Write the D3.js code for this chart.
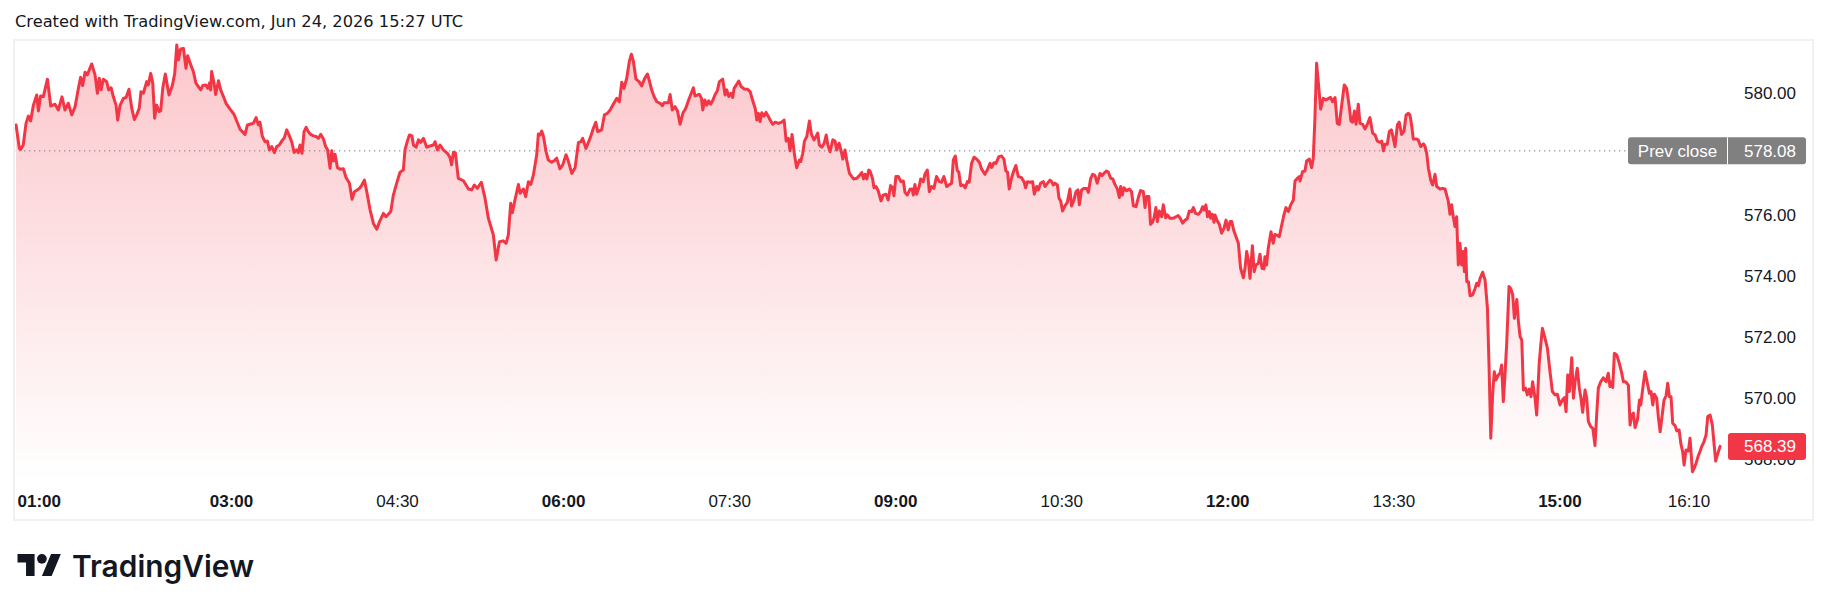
<!DOCTYPE html>
<html><head><meta charset="utf-8">
<script src="https://cdn.jsdelivr.net/npm/d3@7"></script>
<style>
html,body{margin:0;padding:0;background:#fff;}
svg{display:block;}
</style></head><body>
<svg id="chart" width="1830" height="611"></svg>
<script>
// ---- DATA ----
const titleText = "Created with TradingView.com, Jun 24, 2026 15:27 UTC";
const sessionStart = "01:00";
// minutes after 01:00
const minutesAfterStart = [
3.5,5.3,6.0,7.4,8.9,10.2,11.4,12.9,14.7,15.6,16.8,18.3,20.5,22.3,24.6,26.4,28.4,30.0,31.8,33.7,
35.5,37.3,38.5,39.6,40.9,42.1,44.5,46.3,47.6,48.6,49.6,50.8,52.6,53.7,55.0,56.2,57.7,58.6,59.9,61.7,
63.1,64.7,66.2,67.6,68.9,70.3,71.2,72.5,74.3,75.2,76.5,77.6,78.6,79.7,81.0,81.9,83.0,84.4,86.4,88.2,
89.5,90.6,91.5,92.7,94.2,95.6,96.5,98.2,99.6,101.0,102.3,103.6,104.7,106.3,107.4,108.3,109.0,109.5,110.8,111.7,
113.2,114.4,115.9,117.3,119.5,121.6,123.1,124.9,127.6,128.9,130.7,132.1,133.6,134.8,135.7,137.0,138.5,139.7,140.8,142.1,
143.5,144.8,146.2,147.5,148.8,150.2,151.6,152.9,154.2,155.6,156.5,157.4,158.5,159.6,160.7,161.9,163.2,164.7,166.1,167.4,
168.6,170.1,171.3,172.4,173.7,174.6,175.5,176.4,177.7,179.1,180.9,182.4,184.2,185.6,186.9,188.2,189.6,190.9,192.3,193.6,
195.4,197.2,199.0,200.4,202.6,204.0,206.6,208.0,209.8,211.6,213.4,214.3,215.6,216.7,218.0,218.9,220.3,221.6,222.8,224.3,
226.1,227.9,229.7,230.6,231.9,
233.3,235.1,237.3,238.7,239.6,240.5,241.6,243.2,246.0,248.7,250.5,251.9,253.5,255.7,257.7,259.5,262.2,263.7,265.5,267.6,
269.1,270.3,271.6,272.5,273.9,275.8,276.7,278.5,279.7,281.2,282.5,283.9,285.7,286.6,287.5,288.4,289.3,290.8,292.0,293.8,
295.1,296.5,298.3,299.8,301.6,302.9,304.7,306.5,308.3,309.6,310.6,312.4,314.6,316.4,317.7,318.8,320.9,322.4,324.0,325.5,
326.9,329.1,330.5,331.8,333.0,334.5,335.9,337.0,338.1,339.5,341.2,342.6,344.1,345.7,346.8,348.0,349.3,350.8,352.6,353.8,
354.7,357.1,358.0,359.2,360.7,362.0,363.4,364.9,366.5,367.9,369.2,370.6,371.5,372.8,373.9,375.0,375.7,376.8,377.9,378.9,
380.0,381.1,382.4,383.6,384.7,386.5,387.8,388.7,389.8,390.9,391.9,392.7,394.1,395.2,396.5,398.1,399.9,401.4,402.8,404.1,
405.0,405.9,406.8,407.7,408.9,410.0,411.3,412.2,413.6,414.9,416.7,418.5,419.8,420.9,422.1,423.0,424.1,425.4,426.6,428.1,
428.8,429.9,430.8,432.1,433.5,434.6,436.0,437.1,438.0,438.9,440.2,441.5,442.6,443.5,444.7,446.2,447.4,448.3,449.6,450.7,
451.6,452.8,453.7,455.2,457.4,459.2,460.6,461.9,462.8,463.7,464.6,465.7,
466.3,467.7,468.5,469.6,470.8,472.3,473.5,475.0,476.2,477.5,478.6,479.3,480.4,481.7,483.1,484.4,485.3,486.5,488.0,489.2,
489.8,490.7,491.6,493.0,493.8,495.2,496.1,497.4,498.5,499.7,501.0,502.4,503.9,505.1,506.4,507.9,509.1,510.6,511.5,512.6,
513.6,514.5,515.5,516.9,518.0,519.1,520.1,521.4,522.7,524.1,525.6,526.8,528.6,529.9,531.4,532.3,533.5,534.6,536.2,537.7,
538.9,540.0,540.9,541.8,543.1,544.4,545.4,546.7,548.5,549.8,550.7,551.6,553.0,554.5,555.4,556.7,557.6,558.8,560.3,561.2,
562.1,563.9,564.8,565.7,566.6,567.9,568.8,569.7,570.7,572.0,573.3,574.7,575.6,576.9,578.0,579.1,579.8,581.0,582.3,583.8,
584.7,585.9,587.0,588.3,589.5,591.0,592.2,593.1,594.6,595.5,596.8,597.9,599.1,600.4,601.5,602.2,603.1,604.0,605.4,606.9,
608.1,609.1,610.5,611.8,613.0,614.5,615.4,616.3,617.5,618.4,619.5,620.3,621.3,622.1,623.1,624.4,625.3,626.6,627.5,628.9,
630.7,632.2,633.4,634.7,635.8,637.1,638.3,639.4,640.7,641.6,642.8,644.3,645.6,646.6,647.5,648.4,649.3,650.3,651.0,651.9,
652.8,653.3,654.6,655.7,656.9,658.2,659.3,660.5,661.5,662.4,663.6,664.7,666.0,667.2,668.7,669.6,670.5,671.4,672.3,673.6,
674.6,675.5,676.8,677.7,678.8,679.9,680.4,681.3,682.2,683.7,684.9,685.8,686.7,688.2,689.5,690.7,691.8,693.1,694.4,695.8,
696.7,698.0,699.0,
699.4,700.8,702.1,703.0,704.5,705.7,706.6,707.5,708.4,709.3,710.6,712.0,713.5,714.8,716.0,717.1,718.4,719.6,720.7,722.0,
723.4,724.7,726.1,727.0,727.9,728.9,729.8,731.0,731.9,733.4,734.6,735.9,737.3,738.8,740.1,741.3,742.8,743.7,744.6,745.5,
746.7,747.8,748.9,750.0,750.9,752.2,753.2,754.5,755.8,756.9,758.1,759.0,759.9,760.8,762.3,763.5,764.8,766.3,767.2,768.1,
769.0,770.2,771.3,772.6,773.5,775.3,776.7,778.0,778.9,779.8,780.7,781.6,782.5,783.4,784.3,785.2,786.1,787.0,787.9,788.5,
789.2,789.8,790.7,791.6,793.0,794.3,795.2,796.1,797.0,798.4,799.7,801.0,801.9,802.8,803.8,804.7,805.6,806.9,807.8,808.7,
809.6,810.5,811.4,812.7,813.6,814.7,815.6,816.9,817.8,818.7,819.6,820.5,821.7,822.6,823.7,824.6,825.5,826.8,827.7,829.0,
829.9,830.8,832.2,833.5,834.9,836.2,837.6,838.9,840.3,841.6,842.7,843.6,844.5,845.4,846.7,847.6,848.5,849.7,850.8,851.7,
852.6,853.9,854.8,855.7,857.0,858.1,859.3,860.2,861.1,862.4,863.8,865.3,866.5,867.4,868.3,868.9,869.8,871.1,872.5,873.8,
874.7,875.9,877.4,878.3,879.2,880.1,881.0,882.3,883.4,884.1,885.2,886.4,887.7,888.8,889.7,890.6,891.5,892.7,893.7,894.6,
895.5,896.7,897.8,898.7,899.6,900.5,901.4,902.7,903.6,904.9,905.8,906.8,907.6,908.6,909.9,910.8,912.1,913.0,914.1,915.3,
916.2,917.1,918.4,919.5,920.4,921.7,922.9,923.8,924.7,925.6,927.1
];
const prices = [
578.93,578.16,578.13,578.27,578.98,579.22,579.06,579.58,579.91,579.39,579.88,579.86,580.43,579.55,579.61,579.42,579.85,579.42,579.64,579.26,
579.53,580.13,580.49,580.22,580.66,580.57,580.93,580.57,579.97,580.46,580.08,580.43,580.35,580.08,580.15,579.86,579.58,579.09,579.58,579.80,
579.83,580.10,579.48,579.11,579.26,579.48,580.02,579.97,580.35,580.24,580.62,580.30,579.15,579.58,579.37,579.39,580.13,580.60,579.91,580.22,
580.62,581.55,581.06,581.42,581.44,580.79,581.20,580.90,580.68,580.30,580.19,580.08,580.22,580.24,580.13,580.30,580.08,580.68,580.30,579.93,
580.38,580.08,579.86,579.64,579.45,579.28,579.06,578.79,578.62,578.93,578.96,578.98,579.17,578.93,579.02,578.55,578.38,578.40,578.11,578.22,
578.02,578.22,578.27,578.40,578.49,578.77,578.58,578.38,578.03,578.11,578.02,578.27,578.00,578.71,578.85,578.71,578.62,578.57,578.55,578.49,
578.62,578.47,578.22,578.11,577.51,578.08,577.75,577.97,577.53,577.48,577.49,577.20,577.02,576.49,576.74,576.79,576.85,576.96,577.12,576.74,
576.14,575.70,575.51,575.74,576.03,575.92,576.09,576.63,577.02,577.38,577.45,578.11,578.40,578.60,578.58,578.27,578.20,578.44,578.36,578.49,
578.20,578.24,578.27,578.38,578.11,
578.27,578.11,578.00,577.86,577.62,578.03,578.02,577.18,577.10,576.83,576.80,576.96,576.85,577.05,576.52,575.87,575.32,574.50,575.10,575.13,
575.05,575.32,576.36,576.05,576.47,576.98,576.69,576.83,576.58,577.07,576.98,577.29,577.95,578.63,578.60,578.73,578.57,578.05,577.78,577.71,
577.75,577.84,577.49,577.62,577.95,577.73,577.34,577.53,578.35,578.38,578.49,578.16,578.49,578.82,579.02,578.71,578.77,579.26,579.31,579.42,
579.58,579.80,579.69,580.33,580.13,580.46,581.01,581.25,581.01,580.43,580.35,580.21,580.44,580.60,580.37,580.08,579.86,579.69,579.64,579.56,
579.66,579.66,579.93,579.42,579.53,579.39,578.95,579.31,579.48,579.72,579.93,580.15,579.88,579.91,579.93,579.80,579.42,579.75,579.58,579.72,
579.61,579.73,579.93,580.05,580.35,580.43,579.91,580.08,579.86,579.97,579.83,580.13,580.26,580.37,580.19,580.11,580.10,580.02,579.72,579.48,
579.09,579.31,579.04,579.33,579.22,579.34,579.20,579.09,578.95,579.02,578.98,579.02,579.09,578.40,578.49,578.08,578.62,577.95,577.53,577.78,
577.73,578.00,578.40,578.55,579.06,578.62,578.44,578.55,578.66,578.27,578.20,578.33,578.60,578.27,578.05,578.44,578.40,578.11,578.33,578.08,
577.81,578.11,577.78,577.34,577.16,577.18,577.27,577.37,577.16,577.31,577.16,577.45,
577.42,577.18,576.87,576.91,576.77,576.44,576.63,576.66,576.47,576.94,576.87,576.61,577.24,577.24,577.07,577.09,576.72,576.63,576.82,576.83,
576.63,576.98,576.66,576.91,577.16,577.07,577.31,577.45,576.74,576.91,576.85,577.24,577.07,577.05,577.24,576.91,576.96,577.02,577.78,577.91,
577.45,577.38,576.94,576.96,576.87,577.07,577.05,577.67,577.87,577.81,577.71,577.49,577.31,577.45,577.67,577.54,577.69,577.67,577.89,577.91,
577.81,577.42,577.38,576.83,577.20,577.45,577.60,577.24,577.20,577.07,576.87,577.07,577.05,577.07,576.66,576.91,576.80,577.02,577.07,576.91,
576.98,577.12,577.07,576.96,577.02,576.96,576.52,576.44,576.11,576.28,576.39,576.83,576.27,576.47,576.74,576.80,576.31,576.80,576.85,576.85,
576.72,577.16,577.31,577.27,577.02,577.34,577.27,577.34,577.42,577.38,577.18,577.16,576.98,576.83,576.55,576.91,576.63,576.87,576.77,576.83,
576.74,576.28,576.25,576.55,576.78,576.74,576.22,576.58,576.58,575.67,575.74,575.89,576.22,575.76,576.11,575.92,576.31,575.89,575.98,575.87,
575.87,575.92,575.96,575.85,575.71,575.81,575.85,576.11,576.09,576.22,576.03,576.00,576.09,576.25,576.14,576.31,575.92,576.09,575.87,576.00,
575.74,575.98,575.78,575.67,575.38,575.54,575.81,575.49,575.76,575.76,575.45,575.27,575.05,574.23,573.92,574.23,574.78,574.50,573.90,574.97,
574.12,574.34,574.39,574.69,574.23,574.21,574.61,574.34,574.89,575.43,575.05,575.34,575.32,575.27,575.65,575.98,576.22,576.09,576.31,576.47,
577.09,577.18,577.24,
577.09,577.40,577.42,577.75,577.81,577.53,577.84,579.15,580.95,580.35,579.45,579.80,579.75,579.80,579.83,579.69,579.83,578.98,578.95,579.58,
580.24,580.13,579.53,579.06,579.02,579.39,578.95,579.61,578.98,578.95,578.80,578.95,579.17,578.66,578.60,578.40,578.36,578.40,578.08,578.30,
578.30,578.71,578.77,578.49,578.22,578.93,579.02,578.62,578.73,579.26,579.31,579.26,578.93,578.47,578.47,578.44,578.22,578.31,578.22,578.00,
577.51,577.13,576.96,577.31,576.91,576.83,576.85,576.83,576.63,576.42,576.00,576.31,575.92,575.60,575.92,574.34,575.05,574.34,574.78,574.12,
574.89,573.79,573.79,573.33,573.36,573.57,573.74,573.66,573.90,574.10,573.85,572.92,570.95,568.66,570.08,570.84,570.57,570.73,570.79,571.06,
569.86,570.73,571.72,573.63,573.57,573.36,572.59,573.21,572.48,571.99,571.88,570.24,570.30,570.08,570.27,570.02,570.51,569.97,569.42,571.06,
571.72,572.26,571.93,571.61,570.84,570.19,570.08,570.10,569.75,569.91,569.99,569.53,570.73,570.19,571.30,569.97,570.51,570.95,570.30,569.97,
569.51,570.24,569.97,569.20,569.04,568.98,568.42,569.42,570.30,570.51,570.64,570.51,570.79,570.35,570.51,570.32,571.44,571.39,571.11,570.79,
570.51,570.51,570.40,569.09,569.42,569.48,569.01,569.26,569.91,569.75,570.30,570.84,570.46,570.13,570.19,569.75,570.10,569.97,569.31,568.87,
569.31,569.91,570.05,570.46,570.02,570.02,569.15,569.07,568.90,568.93,568.49,568.22,567.78,568.27,568.24,568.66,567.56,567.67,567.84,568.09,
568.22,568.38,568.55,568.77,569.37,569.42,569.09,568.49,567.91,568.11,568.39
];
const timeTickLabels = ["01:00","03:00","04:30","06:00","07:30","09:00","10:30","12:00","13:30","15:00","16:10"];
const boldTimeTicks = ["01:00","03:00","06:00","09:00","12:00","15:00"];
const priceTicks = [568,570,572,574,576,578,580];
const prevClose = 578.08;
const prevCloseLabel = "Prev close";
const lastPrice = 568.39;
const brandName = "TradingView";

// ---- DRAW ----
const svg = d3.select("#chart");
const RED = "#F23645", TXT = "#131722", GREY = "#808080";
const FONT = "'Liberation Sans', Arial, sans-serif";
const pane = {l:14, t:40, r:1813, b:520};
const plotBottom = 482, plotRight = 1740;

const toMin = s => { const [h,m] = s.split(":").map(Number); return h*60+m; };
const startMin = toMin(sessionStart);
const x = d3.scaleLinear().domain([0, 927.1]).range([9.6, 1720.1]);
const y = d3.scaleLinear().domain([568, 580]).range([458.3, 92.3]);

const data = minutesAfterStart.map((m,i)=>({m, v:prices[i]}));

// title
svg.append("text").attr("x",15).attr("y",21).attr("dy","0.35em")
  .attr("font-family","'DejaVu Sans', Verdana, sans-serif").attr("font-size",16)
  .attr("fill",TXT).attr("textLength",448).attr("lengthAdjust","spacingAndGlyphs").text(titleText);

// pane border
svg.append("rect").attr("x",pane.l).attr("y",pane.t)
  .attr("width",pane.r-pane.l).attr("height",pane.b-pane.t)
  .attr("fill","#fff").attr("stroke","#f0f0f0").attr("stroke-width",2);

const defs = svg.append("defs");
defs.append("clipPath").attr("id","plotClip").append("rect")
  .attr("x",pane.l+1).attr("y",pane.t+1).attr("width",plotRight-pane.l-1).attr("height",plotBottom-pane.t-1);
const yTop = y(d3.max(prices));
const grad = defs.append("linearGradient").attr("id","areaGrad")
  .attr("gradientUnits","userSpaceOnUse").attr("x1",0).attr("x2",0).attr("y1",yTop).attr("y2",plotBottom);
grad.append("stop").attr("offset",0).attr("stop-color",RED).attr("stop-opacity",0.28);
grad.append("stop").attr("offset",1).attr("stop-color",RED).attr("stop-opacity",0.0);

const g = svg.append("g").attr("clip-path","url(#plotClip)");
g.append("path").datum(data)
  .attr("d", d3.area().x(d=>x(d.m)).y0(plotBottom).y1(d=>y(d.v)))
  .attr("fill","url(#areaGrad)");

// prev close dotted line
const prevBox = {x:1628, w:178, h:27};
g.append("line").attr("x1",pane.l).attr("x2",prevBox.x).attr("y1",y(prevClose)).attr("y2",y(prevClose))
  .attr("stroke","#787b86").attr("stroke-width",1).attr("stroke-dasharray","1.3,3.7");

g.append("path").datum(data)
  .attr("d", d3.line().x(d=>x(d.m)).y(d=>y(d.v)))
  .attr("fill","none").attr("stroke",RED).attr("stroke-width",3)
  .attr("stroke-linejoin","round").attr("stroke-linecap","round");

// price axis
const yAxis = svg.append("g").attr("transform","translate(1796,0)")
  .call(d3.axisLeft(y).tickValues(priceTicks).tickFormat(d3.format(".2f")).tickSize(0).tickPadding(0));
yAxis.select(".domain").remove();
yAxis.selectAll("text").attr("font-family",FONT).attr("font-size",17).attr("fill",TXT).attr("dy","0.35em");

// time axis
const tickMins = timeTickLabels.map(s=>toMin(s)-startMin);
const xAxis = svg.append("g").attr("transform","translate(0,500.7)")
  .call(d3.axisBottom(x).tickValues(tickMins).tickFormat((d,i)=>timeTickLabels[i]).tickSize(0).tickPadding(0));
xAxis.select(".domain").remove();
xAxis.selectAll("text").attr("font-family",FONT).attr("font-size",17).attr("fill",TXT)
  .attr("y",0).attr("dy","0.35em")
  .attr("font-weight",(d,i)=> boldTimeTicks.includes(timeTickLabels[i]) ? "bold" : "normal");
// keep first label inside pane (TradingView shifts edge labels inward)
xAxis.selectAll(".tick").each(function(d){
  const t = d3.select(this).select("text");
  const w = t.node().getComputedTextLength();
  const cx = x(d);
  if (cx - w/2 < pane.l + 3) t.attr("x", pane.l + 3 + w/2 - cx);
});

// prev close label
const pcy = y(prevClose);
svg.append("rect").attr("x",prevBox.x).attr("y",pcy-prevBox.h/2).attr("width",prevBox.w).attr("height",prevBox.h)
  .attr("rx",3).attr("fill",GREY);
svg.append("line").attr("x1",1727.5).attr("x2",1727.5).attr("y1",pcy-prevBox.h/2).attr("y2",pcy+prevBox.h/2)
  .attr("stroke","#fff").attr("stroke-width",1);
svg.append("text").attr("x",1677.5).attr("y",pcy).attr("dy","0.35em").attr("text-anchor","middle")
  .attr("font-family",FONT).attr("font-size",17).attr("fill","#fff").text(prevCloseLabel);
svg.append("text").attr("x",1796).attr("y",pcy).attr("dy","0.35em").attr("text-anchor","end")
  .attr("font-family",FONT).attr("font-size",17).attr("fill","#fff").text(d3.format(".2f")(prevClose));

// last price label
const ly = y(lastPrice);
svg.append("rect").attr("x",1728).attr("y",ly-13.5).attr("width",78).attr("height",27).attr("rx",3).attr("fill",RED);
svg.append("text").attr("x",1796).attr("y",ly).attr("dy","0.35em").attr("text-anchor","end")
  .attr("font-family",FONT).attr("font-size",17).attr("fill","#fff").text(d3.format(".2f")(lastPrice));

// brand logo
const logo = svg.append("g").attr("transform","translate(17.5,549.1) scale(1.22)").attr("fill",TXT);
logo.append("path").attr("d","M14 22H7V11H0V4h14v18zM28 22h-8l7.5-18h8L28 22z");
logo.append("circle").attr("cx",20).attr("cy",8).attr("r",4);
svg.append("text").attr("x",72).attr("y",577).attr("font-family","Inter, 'Noto Sans', sans-serif")
  .attr("font-size",30).attr("font-weight",600).attr("fill",TXT)
  .attr("textLength",182).attr("lengthAdjust","spacingAndGlyphs").text(brandName);
</script>
</body></html>
